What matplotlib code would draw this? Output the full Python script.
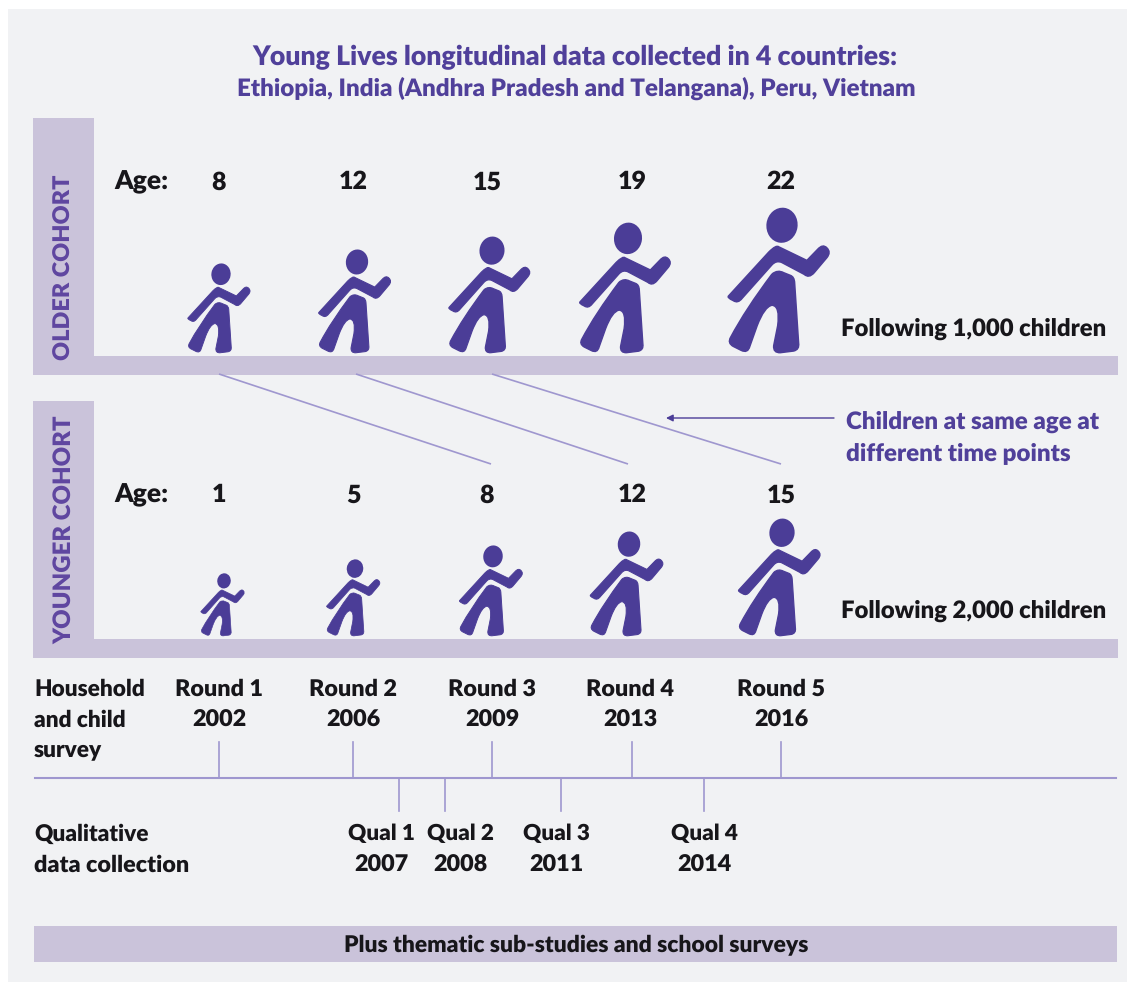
import matplotlib
matplotlib.use("Agg")
import matplotlib.pyplot as plt
from matplotlib.path import Path
from matplotlib.patches import PathPatch, Rectangle, Ellipse

plt.rcParams['font.family'] = ['Lato', 'DejaVu Sans']
plt.rcParams['text.hinting'] = 'no_hinting'
plt.rcParams['text.hinting_factor'] = 8

PURPLE = '#4b3d97'
TITLE = '#50409a'
BAR = '#cac3da'
PANEL = '#f1f2f4'
LINE = '#9f97cf'
INK = '#17161a'
MAIN = 16.8

# ---- data
older_ages = [8, 12, 15, 19, 22]
older_x = [221, 357, 492, 628, 782]
older_h = [90, 104, 117, 131, 146]
older_age_x = [219, 353, 487, 632, 781]
younger_ages = [1, 5, 8, 12, 15]
younger_x = [224, 355, 493, 629, 782]
younger_h = [63, 77, 91, 105, 118]
younger_age_x = [219, 353, 487, 632, 781]
round_labels = ['Round 1', 'Round 2', 'Round 3', 'Round 4', 'Round 5']
round_years = [2002, 2006, 2009, 2013, 2016]
round_x = [219, 353, 492, 632, 781]
round_text_x = [219, 353, 492, 630, 781]
qual_labels = ['Qual 1', 'Qual 2', 'Qual 3', 'Qual 4']
qual_years = [2007, 2008, 2011, 2014]
qual_x = [399, 445, 561, 704]
qual_text_x = [381, 460, 556, 704]
links = [(219, 491), (356, 628), (492, 781)]

fig = plt.figure(figsize=(11.38, 9.83), dpi=100, facecolor='white')
ax = fig.add_axes([0, 0, 1, 1])
ax.set_xlim(0, 1138)
ax.set_ylim(983, 0)
ax.axis('off')

# ---- person glyph: traced outline, head x = 0, feet y = 0, height = 1
M, L, Q = Path.MOVETO, Path.LINETO, Path.CURVE3
arm = [(M, 84, 320), (L, 205, 188), (Q, 228, 165), (Q, 235, 172), (L, 320, 213), (L, 352, 180),
       (Q, 368, 162), (Q, 380, 175), (Q, 394, 188), (Q, 380, 205), (L, 342, 250), (Q, 326, 268),
       (Q, 312, 255), (L, 244, 219), (Q, 228, 212), (Q, 215, 226), (L, 125, 327), (Q, 112, 344),
       (Q, 98, 334), (Q, 78, 325), (Q, 84, 320)]
body = [(M, 215, 254), (Q, 232, 240), (Q, 250, 250), (L, 270, 258), (Q, 282, 262), (Q, 283, 280),
        (L, 295, 462), (Q, 298, 482), (Q, 280, 486), (L, 240, 491), (Q, 218, 492), (Q, 220, 470),
        (L, 232, 410), (Q, 240, 350), (Q, 215, 348), (Q, 192, 352), (Q, 170, 410), (L, 148, 472),
        (Q, 142, 494), (Q, 122, 484), (L, 98, 472), (Q, 80, 462), (Q, 90, 445), (Q, 135, 360), (Q, 215, 254)]


def draw_person(cx, base, h):
    s = h / 440.0
    for part in (arm, body):
        codes = [p[0] for p in part]
        verts = [(cx + (p[1] - 245) * s, base - (492 - p[2]) * s) for p in part]
        ax.add_patch(PathPatch(Path(verts, codes), fc=PURPLE, ec=PURPLE, lw=h * 0.0075,
                               joinstyle='round', zorder=4))
    ax.add_patch(Ellipse((cx, base - (492 - 107) * s), 94 * s, 106 * s, angle=8,
                         fc=PURPLE, ec='none', zorder=4))


def rect(x0, y0, x1, y1, color=BAR, z=1):
    ax.add_patch(Rectangle((x0, y0), x1 - x0, y1 - y0, fc=color, ec='none', zorder=z))


def t(x, y, s, size=MAIN, color=INK, ha='center', rot=0):
    ax.text(x, y, s, fontsize=size, color=color, ha=ha, va='center', rotation=rot,
            fontweight=800, zorder=6)


# ---- background
rect(8, 9, 1127, 982, PANEL, 0)

# ---- title
t(575, 57, 'Young Lives longitudinal data collected in 4 countries:', size=19.2, color=TITLE)
t(576, 88, 'Ethiopia, India (Andhra Pradesh and Telangana), Peru, Vietnam', size=17.4, color=TITLE)

# ---- cohort bands
for top, cname, cy, csize, base, ages, xs, hs, axs, follow, age_y, fy in [
    (118, 'OLDER COHORT', 267, 16.9, 353, older_ages, older_x, older_h, older_age_x, 'Following 1,000 children', 182, 329),
    (401, 'YOUNGER COHORT', 530, 17.3, 636, younger_ages, younger_x, younger_h, younger_age_x, 'Following 2,000 children', 495, 611),
]:
    rect(33, top, 94, top + 257)
    rect(33, top + 238, 1118, top + 257)
    t(64, cy, cname, size=csize, color='#5f46a0', rot=90)
    t(114, age_y, 'Age:', ha='left', size=19)
    for a, ax_, x, h in zip(ages, axs, xs, hs):
        t(ax_, age_y, str(a), size=18)
        draw_person(x, base, h)
    t(1106, fy, follow, ha='right', size=17.2)

# ---- links across cohorts
for x0, x1 in links:
    ax.plot([x0, x1], [374, 464], color=LINE, lw=1.2, zorder=2, solid_capstyle='butt')

# ---- annotation
ax.annotate('', xy=(666, 418), xytext=(834, 418),
            arrowprops=dict(arrowstyle='-|>', color=PURPLE, lw=1.0, mutation_scale=10, shrinkA=0, shrinkB=0))
t(846, 422, 'Children at same age at', color=TITLE, ha='left', size=17.4)
t(846, 453, 'different time points', color=TITLE, ha='left', size=17.4)

# ---- timeline
ax.plot([35, 1116], [778, 778], color=LINE, lw=1.5, zorder=2)
for x in round_x:
    ax.plot([x, x], [742, 778], color=LINE, lw=1.2, zorder=2)
for x in qual_x:
    ax.plot([x, x], [778, 811], color=LINE, lw=1.2, zorder=2)
for lab, yr, x in zip(round_labels, round_years, round_text_x):
    t(x, 689, lab)
    t(x, 720, str(yr))
for lab, yr, x in zip(qual_labels, qual_years, qual_text_x):
    t(x, 834, lab, size=16.2)
    t(x, 865, str(yr))
for y, s, sz in [(689, 'Household', 16.3), (720, 'and child', 16.3), (750, 'survey', 16.3),
                 (834, 'Qualitative', 16.3), (865, 'data collection', 16.8)]:
    t(34, y, s, ha='left', size=sz)

# ---- footer
rect(34, 926, 1117, 962)
t(576, 945, 'Plus thematic sub-studies and school surveys', size=16.5)

fig.savefig('out.png', dpi=100, facecolor='white')
